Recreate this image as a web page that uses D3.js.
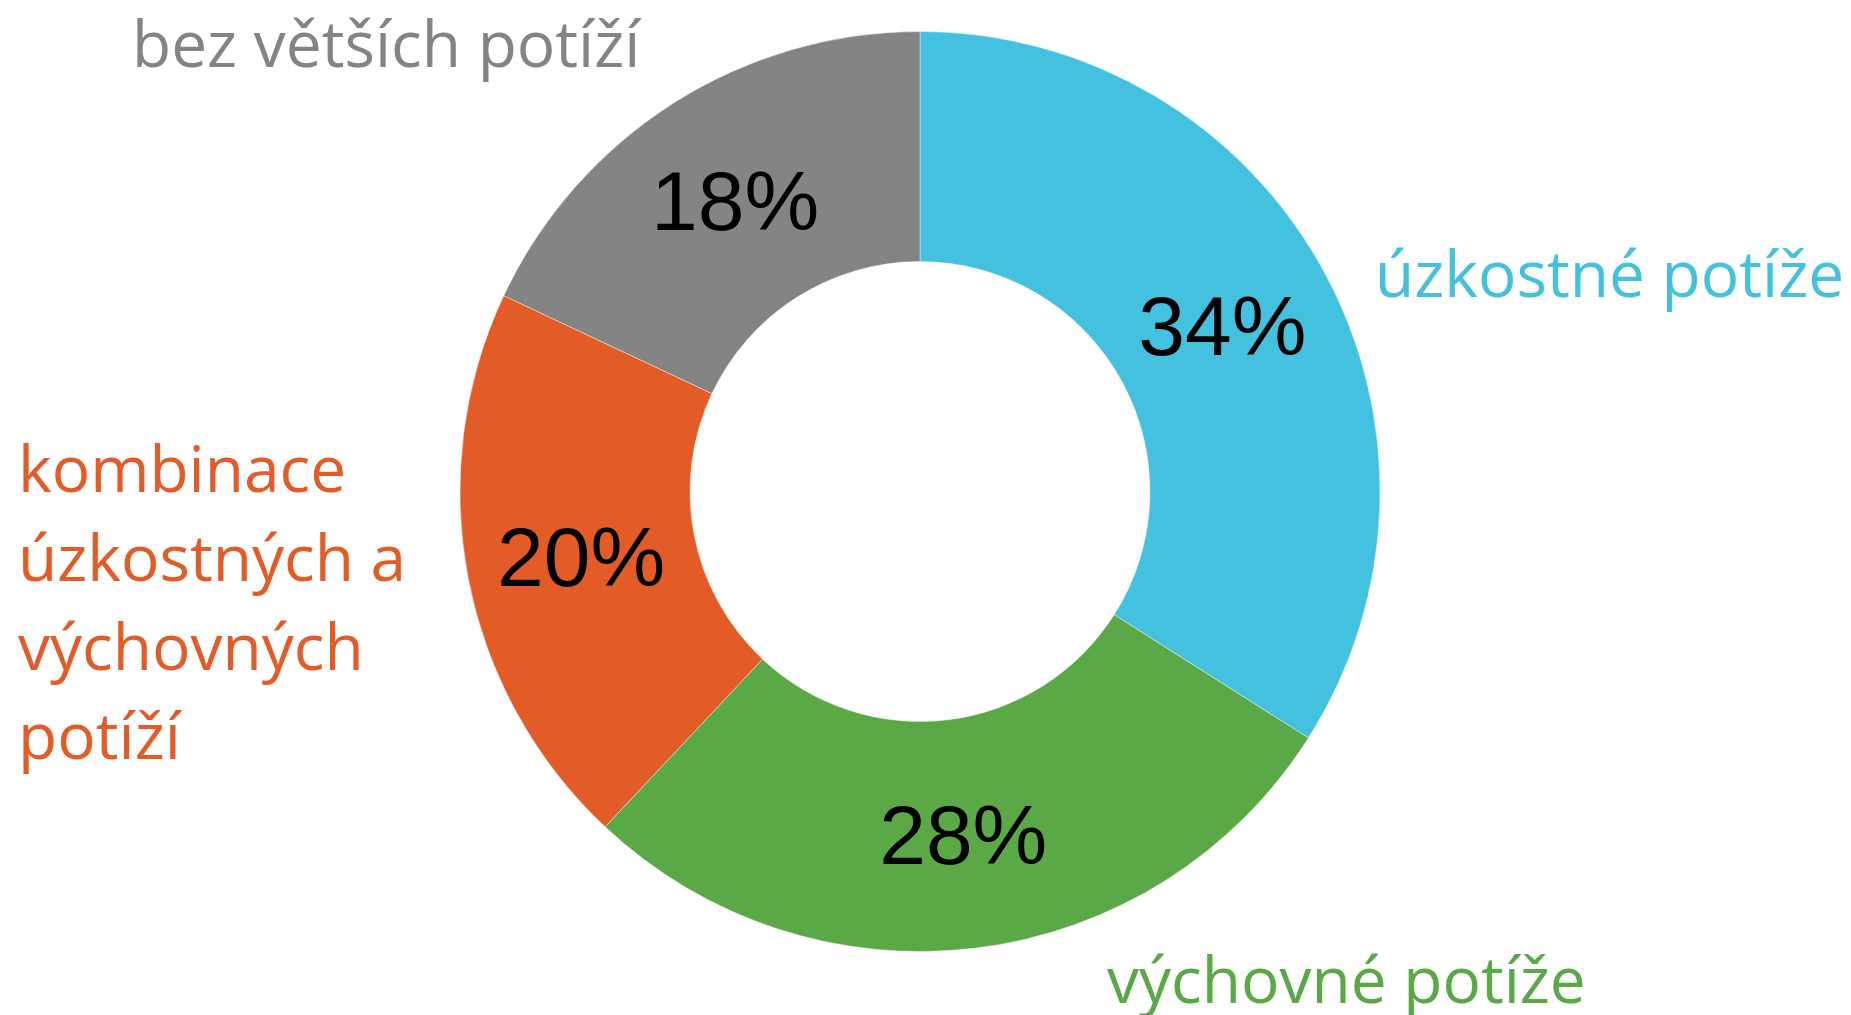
<!DOCTYPE html>
<html>
<head>
<meta charset="utf-8">
<script src="https://cdn.jsdelivr.net/npm/d3@7"></script>
<style>
  html, body { margin: 0; padding: 0; background: #fff; }
  svg { display: block; }
  .pct { font-family: 'Liberation Sans', Arial, sans-serif; font-size: 84px; fill: #000; }
  .cat { font-family: 'Open Sans', 'Noto Sans', sans-serif; font-size: 64px; }
</style>
</head>
<body>
<svg width="1851" height="1015"></svg>
<script>
const categories = ['úzkostné potíže', 'výchovné potíže', 'kombinace úzkostných a výchovných potíží', 'bez větších potíží'];
const values = [34, 28, 20, 18];
const colors = ['#43C1DE', '#5AA846', '#E35B26', '#848484'];
// label lines as wrapped in the original
const labelLines = [
    ['úzkostné potíže'],
    ['výchovné potíže'],
    ['kombinace', 'úzkostných a', 'výchovných', 'potíží'],
    ['bez větších potíží']
];

const data = categories.map((c, i) => ({ category: c, value: values[i], color: colors[i], lines: labelLines[i] }));

const svg = d3.select('svg');
const cx = 920;
const cy = 491.5;
const outerRadius = 460;
const innerRadius = 230;

const pie = d3.pie()
    .sort(null)
    .value(d => d.value);

const arc = d3.arc()
    .innerRadius(innerRadius)
    .outerRadius(outerRadius);

const g = svg.append('g')
    .attr('transform', `translate(${cx}, ${cy})`);

const arcs = pie(data);

g.selectAll('path')
    .data(arcs)
    .enter()
        .append('path')
        .attr('d', arc)
        .attr('fill', d => d.data.color)
        .attr('stroke', '#fff')
        .attr('stroke-width', 0.4);

g.selectAll('.pct')
    .data(arcs)
    .enter()
        .append('text')
        .classed('pct', true)
        .attr('text-anchor', 'middle')
        .attr('x', d => arc.centroid(d)[0])
        .attr('y', d => arc.centroid(d)[1] + 30)
        .text(d => Math.round(d.data.value) + '%');

// category label anchors (page coordinates, first baseline)
const labelPos = [
    { x: 1375, y: 297 },
    { x: 1107, y: 1003 },
    { x: 18, y: 492 },
    { x: 132, y: 67 }
];
const lineHeight = 89;

const labels = svg.selectAll('.cat')
    .data(data)
    .enter()
        .append('text')
        .classed('cat', true)
        .attr('fill', d => d.color)
        .attr('x', (d, i) => labelPos[i].x)
        .attr('y', (d, i) => labelPos[i].y);

labels.selectAll('tspan')
    .data((d, i) => d.lines.map((l, j) => ({ text: l, x: labelPos[i].x, dy: j === 0 ? 0 : lineHeight })))
    .enter()
        .append('tspan')
        .attr('x', d => d.x)
        .attr('dy', d => d.dy)
        .text(d => d.text);
</script>
</body>
</html>
